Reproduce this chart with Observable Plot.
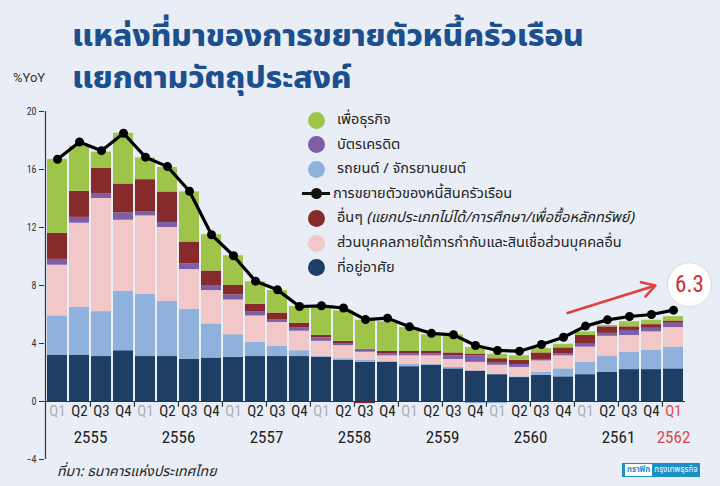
<!DOCTYPE html>
<html><head><meta charset="utf-8">
<script src="https://cdn.jsdelivr.net/npm/d3@7"></script>
<script src="https://cdn.jsdelivr.net/npm/@observablehq/plot@0.6"></script>
<style>
html,body{margin:0;padding:0;background:#e9eef6;}
#wrap{position:relative;width:720px;height:486px;overflow:hidden;background:#e9eef6;font-family:"Noto Sans Thai","Noto Sans Thai UI","Loma","Garuda","Tlwg Typist","Liberation Sans Narrow",sans-serif;}
#chart{position:absolute;left:0;top:0;}
.title{position:absolute;left:72px;color:#1c4f8e;font-weight:800;font-size:29px;line-height:34px;letter-spacing:-0.2px;white-space:nowrap;transform:scale(1.1,1.04);transform-origin:left center;}
.yoy{position:absolute;left:13px;top:70px;font-size:13px;color:#333;font-family:"Liberation Sans Narrow","Roboto",sans-serif;}
.leg{position:absolute;left:308px;font-size:14.5px;color:#222;white-space:nowrap;line-height:18px;}
.leg .sw{display:inline-block;width:17px;height:17px;border-radius:50%;vertical-align:middle;margin-right:12px;}
.leg .ln{display:inline-block;width:28px;height:3px;background:#111;vertical-align:middle;position:relative;margin-left:-6px;margin-right:3px;}
.leg .ln:after{content:"";position:absolute;left:9px;top:-4px;width:11px;height:11px;border-radius:50%;background:#111;}
.src{position:absolute;left:57px;top:461px;font-size:14px;font-style:italic;color:#222;}
.logo{position:absolute;left:622px;top:463px;font-size:8px;color:#fff;background:#1b8fc6;padding:1px 3px;white-space:nowrap;}
.logo b{background:#fff;color:#1b8fc6;padding:0 2px;margin-right:2px;}
</style></head>
<body>
<div id="wrap">
  <div id="chart"></div>
  <div class="title" style="top:20px">แหล่งที่มาของการขยายตัวหนี้ครัวเรือน</div>
  <div class="title" style="top:62px">แยกตามวัตถุประสงค์</div>
  <div class="yoy">%YoY</div>
  <div id="legend"></div>
  <div class="src">ที่มา: ธนาคารแห่งประเทศไทย</div>
  <div class="logo"><b>กราฟิก</b>กรุงเทพธุรกิจ</div>
</div>
<script>
// ---- data ----
const years = [2555, 2556, 2557, 2558, 2559, 2560, 2561, 2562];
const qNames = ["Q1", "Q2", "Q3", "Q4"];
const seriesNames = ["ที่อยู่อาศัย", "รถยนต์ / จักรยานยนต์", "ส่วนบุคคลภายใต้การกำกับและสินเชื่อส่วนบุคคลอื่น", "บัตรเครดิต", "อื่นๆ", "เพื่อธุรกิจ"];
const seriesColors = ["#1f3e66", "#8fb2dc", "#f2c7c7", "#7f5ea8", "#862a2c", "#9ec54a"];
const housing  = [3.2,3.2,3.1,3.5, 3.1,3.1,2.9,3.0, 3.05,3.1,3.1,3.1, 3.05,2.85,2.7,2.7, 2.4,2.5,2.25,2.1, 1.85,1.65,1.8,1.7, 1.85,2.0,2.2,2.2, 2.25];
const car      = [2.7,3.3,3.1,4.1, 4.3,3.8,3.45,2.35, 1.55,1.0,0.7,0.4, 0.05,0.1,0.15,0.05, 0.15,0.05,0.1,-0.15, -0.15,0.05,0.2,0.55, 0.85,1.1,1.2,1.35, 1.5];
const personal = [3.5,5.8,7.8,4.9, 5.4,5.1,2.75,2.3, 2.4,1.8,1.65,1.35, 1.05,0.9,0.55,0.4, 0.6,0.6,0.55,0.6, 0.65,0.65,0.8,0.9, 1.05,1.4,1.15,1.25, 1.35];
const credit   = [0.4,0.4,0.3,0.5, 0.3,0.35,0.4,0.35, 0.35,0.3,0.2,0.25, 0.25,0.15,0.2,0.15, 0.15,0.15,0.25,0.45, 0.15,0.2,0.1,0.15, 0.2,0.2,0.35,0.25, 0.3];
const other    = [1.8,1.8,1.8,2.0, 2.2,2.1,1.5,1.0, 0.65,0.5,0.45,0.3, 0.15,0.15,-0.15,0.15, 0.15,0.15,0.2,0.12, 0.3,0.3,0.45,0.4, 0.6,0.45,0.25,0.25, 0.15];
const business = [5.1,3.1,1.1,3.5, 1.5,1.7,3.45,2.5, 2.05,1.55,1.55,1.15, 1.9,2.1,2.0,2.05, 1.65,1.15,1.25,0.45, 0.3,0.3,0.3,0.25, 0.25,0.1,0.35,0.3, 0.3];
const total    = [16.7,17.9,17.3,18.5, 16.85,16.2,14.5,11.5, 10.05,8.3,7.7,6.55, 6.6,6.45,5.65,5.75, 5.15,4.7,4.6,3.86, 3.52,3.47,3.93,4.43, 5.2,5.63,5.86,6.0, 6.3];
const latestLabel = "6.3";
const yTicks = [-4, 0, 4, 8, 12, 16, 20];

// ---- build tables ----
const periods = [];
years.forEach(y => qNames.forEach(q => { if (periods.length < total.length) periods.push({key: y + "-" + q, year: y, q}); }));
const keys = periods.map(p => p.key);
const seriesValues = [housing, car, personal, credit, other, business];
const long = [];
periods.forEach((p, i) => seriesNames.forEach((s, j) => long.push({key: p.key, series: s, value: seriesValues[j][i]})));
const lineData = periods.map((p, i) => ({key: p.key, value: total[i]}));
const last = keys[keys.length - 1];

const yearLabels = years.filter(y => y !== years[years.length - 1]).map(y => ({key: y + "-Q2", text: String(y)}));
const tickKeys = keys.filter(k => (k.endsWith("Q1") || k.endsWith("Q3")) && k !== keys[0]);

const numFont = '"Liberation Sans Narrow","Roboto Condensed","Roboto",sans-serif';

const chart = Plot.plot({
  width: 720, height: 486,
  marginTop: 111, marginBottom: 27, marginLeft: 44, marginRight: 35,
  style: {background: "transparent", fontFamily: numFont, color: "#333"},
  x: {type: "band", domain: keys, paddingInner: 0.1, paddingOuter: 0.05, axis: null},
  y: {domain: [-4, 20], ticks: yTicks, tickSize: 5, tickPadding: 3, label: null, fontSize: 14},
  color: {domain: seriesNames, range: seriesColors},
  marks: [
    Plot.barY(long, {x: "key", y: "value", fill: "series", order: seriesNames}),
    Plot.ruleY([0], {stroke: "#333", strokeWidth: 1.2}),
    Plot.ruleX([keys[0]], {y1: -4, y2: 20, dx: -12, stroke: "#333", strokeWidth: 1.2}),
    Plot.ruleX(tickKeys, {y1: 0, y2: -0.4, dx: -11.05, stroke: "#333", strokeWidth: 1.2}),
    Plot.line(lineData, {x: "key", y: "value", stroke: "#000", strokeWidth: 3.2}),
    Plot.dot(lineData, {x: "key", y: "value", r: 4.5, fill: "#000"}),
    Plot.text(periods.filter(p => p.q === "Q1" && p.key !== last), {x: "key", y: 0, text: "q", dy: 10, fill: "#a9adb5", fontSize: 15, fontFamily: numFont}),
    Plot.text(periods.filter(p => p.q !== "Q1"), {x: "key", y: 0, text: "q", dy: 10, fill: "#222", fontSize: 15, fontFamily: numFont}),
    Plot.text([{key: last, text: "Q1"}], {x: "key", y: 0, text: "text", dy: 10, fill: "#d9474f", fontSize: 15, fontFamily: numFont}),
    Plot.text(yearLabels, {x: "key", y: 0, text: "text", dx: 11, dy: 36, fill: "#222", fontSize: 17, fontFamily: numFont}),
    Plot.text([{key: last, text: String(years[years.length - 1])}], {x: "key", y: 0, text: "text", dy: 36, fill: "#d9474f", fontSize: 17, fontFamily: numFont}),
    Plot.arrow([{x1: keys[23], y1: 6.1, x2: keys[27], y2: 8.0}], {x1: "x1", y1: "y1", x2: "x2", y2: "y2", dx: 4, stroke: "#e0403d", strokeWidth: 2.5, headLength: 9, insetEnd: 0}),
    Plot.dot([{key: last, v: 8.05}], {x: "key", y: "v", r: 22, dx: 16, fill: "#fff", stroke: "#d8dbe0", strokeWidth: 1, style: "filter: drop-shadow(1px 2px 2px rgba(0,0,0,0.25))"}),
    Plot.text([{key: last, v: 8.05, t: latestLabel}], {x: "key", y: "v", text: "t", dx: 16, fill: "#c8323c", fontSize: 23, fontFamily: numFont})
  ]
});
document.getElementById("chart").appendChild(chart);

// ---- legend ----
const legendItems = [
  {label: "เพื่อธุรกิจ", color: seriesColors[5]},
  {label: "บัตรเครดิต", color: seriesColors[3]},
  {label: "รถยนต์ / จักรยานยนต์", color: seriesColors[1]},
  {label: "การขยายตัวของหนี้สินครัวเรือน", line: true},
  {label: "อื่นๆ <i>(แยกประเภทไม่ได้/การศึกษา/เพื่อซื้อหลักทรัพย์)</i>", color: seriesColors[4]},
  {label: "ส่วนบุคคลภายใต้การกำกับและสินเชื่อส่วนบุคคลอื่น", color: seriesColors[2]},
  {label: "ที่อยู่อาศัย", color: seriesColors[0]}
];
const lg = document.getElementById("legend");
legendItems.forEach((it, i) => {
  const d = document.createElement("div");
  d.className = "leg";
  d.style.top = (111 + i * 24.6) + "px";
  d.innerHTML = (it.line ? '<span class="ln"></span>' : '<span class="sw" style="background:' + it.color + '"></span>') + '<span style="vertical-align:middle">' + it.label + '</span>';
  lg.appendChild(d);
});
</script>
</body></html>
